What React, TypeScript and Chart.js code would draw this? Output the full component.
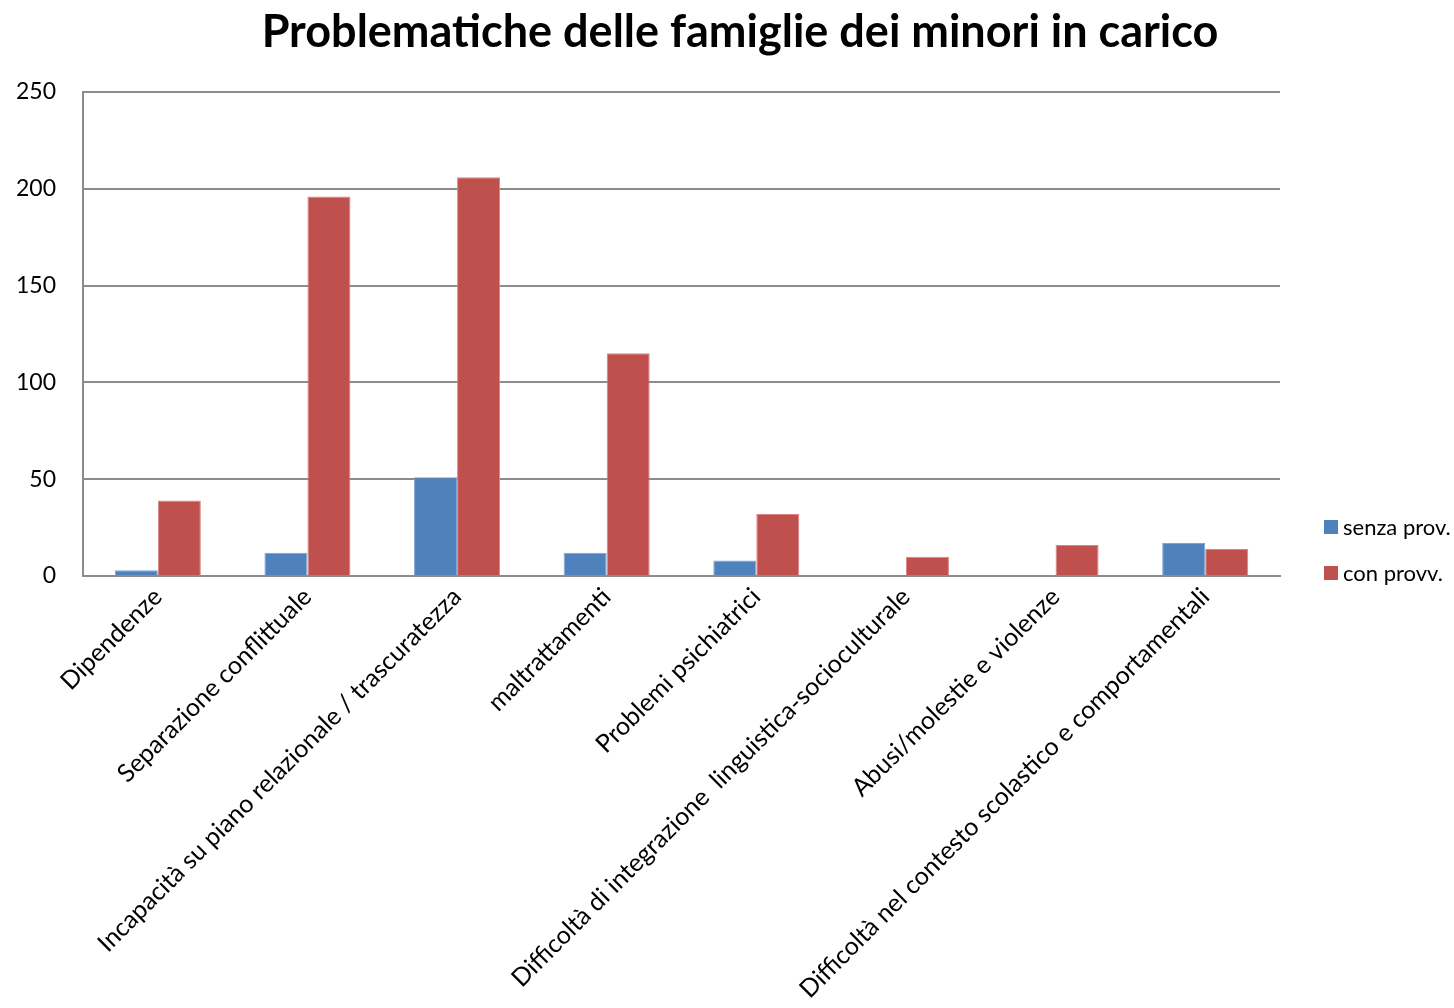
import React, { useEffect, useRef } from "react";
import { Chart, registerables } from "chart.js";

Chart.register(...registerables);

const titleText = "Problematiche delle famiglie dei minori in carico";
const categories = [
  "Dipendenze",
  "Separazione conflittuale",
  "Incapacità su piano relazionale / trascuratezza",
  "maltrattamenti",
  "Problemi psichiatrici",
  "Difficoltà di integrazione  linguistica-socioculturale",
  "Abusi/molestie e violenze",
  "Difficoltà nel contesto scolastico e comportamentali",
];
const senzaProv = [3, 12, 51, 12, 8, 0.5, 0, 17];
const conProvv = [39, 196, 206, 115, 32, 10, 16, 14];
const seriesNames = ["senza prov.", "con provv."];
const yTicks = [0, 50, 100, 150, 200, 250];

const FONT = "Lato, 'Open Sans', sans-serif";

const decorPlugin = {
  id: "decor",
  afterDraw(chart: any) {
    const ctx = chart.ctx;
    const area = chart.chartArea;
    ctx.save();
    // title
    ctx.fillStyle = "#000";
    ctx.font = `bold 45px ${FONT}`;
    ctx.textAlign = "center";
    ctx.textBaseline = "alphabetic";
    ctx.fillText(titleText, 740, 47);
    // legend
    chart.data.datasets.forEach((ds: any, i: number) => {
      const cy = area.bottom - 49 + i * 46;
      ctx.fillStyle = ds.backgroundColor;
      ctx.fillRect(area.right + 44, cy - 7, 14, 14);
      ctx.fillStyle = "#000";
      ctx.font = `22px ${FONT}`;
      ctx.textBaseline = "middle";
      ctx.textAlign = "left";
      ctx.fillText(ds.label, area.right + 63, cy + 1);
    });
    ctx.restore();
  },
};

export default function App() {
  const ref = useRef<HTMLCanvasElement>(null);
  useEffect(() => {
    if (!ref.current) return;
    const chart = new Chart(ref.current, {
      type: "bar",
      data: {
        labels: categories,
        datasets: [
          {
            label: seriesNames[0],
            data: senzaProv,
            backgroundColor: "#4F81BD",
            borderColor: "#7FA3D0",
            borderWidth: 1,
            categoryPercentage: 0.575,
            barPercentage: 1,
          },
          {
            label: seriesNames[1],
            data: conProvv,
            backgroundColor: "#C0504D",
            borderColor: "#D88583",
            borderWidth: 1,
            categoryPercentage: 0.575,
            barPercentage: 1,
          },
        ],
      },
      options: {
        animation: false,
        responsive: true,
        maintainAspectRatio: false,
        layout: { padding: { left: 0, right: 174, top: 92, bottom: 0 } },
        plugins: {
          legend: { display: false },
          tooltip: { enabled: false },
          title: { display: false },
        },
        scales: {
          x: {
            grid: { display: false, drawTicks: false },
            border: { display: true, color: "#8C8C8C", width: 2 },
            ticks: {
              color: "#000",
              font: { family: FONT, size: 25 },
              maxRotation: 45,
              minRotation: 45,
              autoSkip: false,
              padding: 6,
            },
            afterFit(scale: any) {
              scale.height = 432;
            },
          },
          y: {
            min: 0,
            max: 250,
            afterBuildTicks(scale: any) {
              scale.ticks = yTicks.map((v) => ({ value: v }));
            },
            grid: { color: "#8C8C8C", lineWidth: 2, drawTicks: false },
            border: { display: true, color: "#8C8C8C", width: 2 },
            ticks: {
              color: "#000",
              font: { family: FONT, size: 23 },
              padding: 27,
            },
            afterFit(scale: any) {
              scale.width = 83;
            },
          },
        },
      },
      plugins: [decorPlugin],
    });
    return () => chart.destroy();
  }, []);
  return (
    <div style={{ position: "absolute", left: 0, top: 0, width: 1454, height: 1008, background: "#fff" }}>
      <canvas ref={ref} />
    </div>
  );
}
